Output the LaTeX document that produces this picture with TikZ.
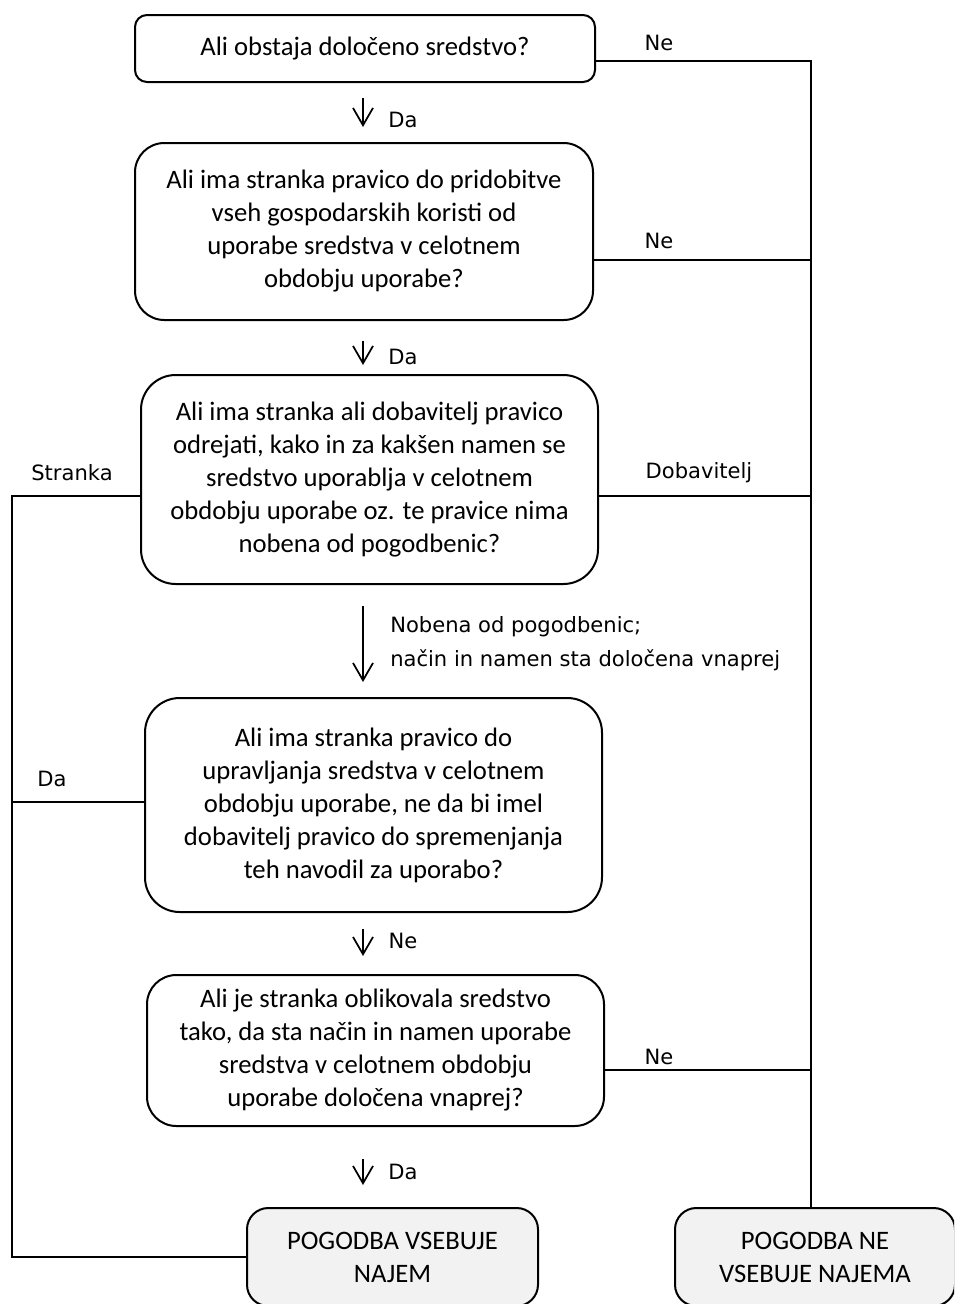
\documentclass[tikz,border=0pt]{standalone}
\usepackage{fontspec}
\setmainfont{Carlito}
\newfontfamily\labelfont{DejaVu Sans}
\usetikzlibrary{arrows.meta, calc}
\definecolor{endgrey}{HTML}{F2F2F2}

\begin{document}
\begin{tikzpicture}[x=0.75pt, y=-0.75pt,
qbox/.style={
  rectangle, draw, line width=1.5pt, rounded corners=#1,
  fill=white, align=center, inner sep=0pt,
  font=\fontsize{20}{24.75}\selectfont
},
qbox/.default=22pt,
endbox/.style={qbox=16pt, fill=endgrey},
lbl/.style={font=\labelfont\fontsize{15.8}{25.5}\selectfont, inner sep=0pt},
bus/.style={line width=1.5pt},
arr/.style={line width=1.5pt, -{Straight Barb[length=13pt, width=15pt, line width=1.3pt]}}
]
\useasboundingbox (0,0) rectangle (954,1304);
\clip (0,0) rectangle (954,1304);

\node (q1) [qbox=9pt, minimum width=345pt, minimum height=50.25pt] at (365,48.5)
  {Ali obstaja določeno sredstvo?};
\node (q2) [qbox=22pt, minimum width=343.5pt, minimum height=132.75pt] at (364,231.5)
  {Ali ima stranka pravico do pridobitve\\ vseh gospodarskih koristi od\\
   uporabe sredstva v celotnem\\ obdobju uporabe?};
\node (q3) [qbox=26pt, minimum width=342.75pt, minimum height=156.75pt] at (369.5,479.5)
  {Ali ima stranka ali dobavitelj pravico\\ odrejati, kako in za kakšen namen se\\
   sredstvo uporablja v celotnem\\ obdobju uporabe oz. te pravice nima\\
   nobena od pogodbenic?};
\node (q4) [qbox=26pt, minimum width=342.75pt, minimum height=160.5pt] at (373.5,805)
  {Ali ima stranka pravico do\\ upravljanja sredstva v celotnem\\
   obdobju uporabe, ne da bi imel\\ dobavitelj pravico do spremenjanja\\
   teh navodil za uporabo?};
\node (q5) [qbox=22pt, minimum width=342.75pt, minimum height=113.25pt] at (375.5,1050.5)
  {Ali je stranka oblikovala sredstvo\\ tako, da sta način in namen uporabe\\
   sredstva v celotnem obdobju\\ uporabe določena vnaprej?};
\node (r6) [endbox, minimum width=218.25pt, minimum height=73.5pt] at (392.5,1257)
  {POGODBA VSEBUJE\\ NAJEM};
\node (r7) [endbox, minimum width=210pt, minimum height=73.5pt] at (815,1257)
  {POGODBA NE\\ VSEBUJE NAJEMA};

\coordinate (ax) at (363,0);
\coordinate (busR1) at (811,61);
\coordinate (busR2) at (811,260);
\coordinate (busR3) at (811,496);
\coordinate (busR5) at (811,1070);
\coordinate (busL3) at (12,496);
\coordinate (busL4) at (12,802);

\draw[bus] (q1.east |- busR1) -- (busR1) -- (busR1 |- r7.north);
\draw[bus] (q2.east |- busR2) -- (busR2);
\draw[bus] (q3.east |- busR3) -- (busR3);
\draw[bus] (q5.east |- busR5) -- (busR5);
\draw[bus] (q3.west |- busL3) -- (busL3) -- (busL3 |- r6.west) -- (r6.west);
\draw[bus] (q4.west |- busL4) -- (busL4);

\draw[arr] ($(q1.south -| ax)+(0,15)$) -- ($(q2.north -| ax)+(0,-15)$);
\draw[arr] ($(q2.south -| ax)+(0,20)$) -- ($(q3.north -| ax)+(0,-9)$);
\draw[arr] ($(q3.south -| ax)+(0,21)$) -- ($(q4.north -| ax)+(0,-15)$);
\draw[arr] ($(q4.south -| ax)+(0,16)$) -- ($(q5.north -| ax)+(0,-18)$);
\draw[arr] ($(q5.south -| ax)+(0,32)$) -- ($(r6.north -| ax)+(0,-22)$);

\node (da1) [lbl] at (403,120) {Da};
\node (da2) [lbl] at (403,357) {Da};
\node (ne4) [lbl] at (403,941) {Ne};
\node (da5) [lbl] at (403,1172) {Da};
\node (nobena) [lbl, anchor=west, align=left] at (390,644)
  {Nobena od pogodbenic;\\ način in namen sta določena vnaprej};
\node (ne1) [lbl] at (659,43) {Ne};
\node (ne2) [lbl] at (659,241) {Ne};
\node (ne5) [lbl] at (659,1057) {Ne};
\node (dobavitelj) [lbl] at (699,473) {Dobavitelj};
\node (stranka) [lbl] at (72,473) {Stranka};
\node (da4) [lbl] at (52,779) {Da};
\end{tikzpicture}
\end{document}
